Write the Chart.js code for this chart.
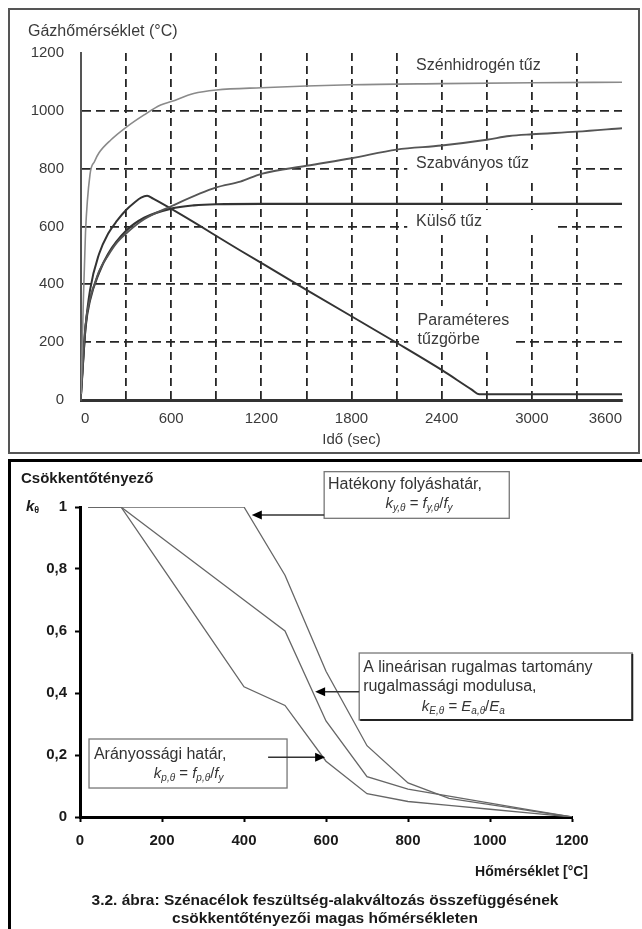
<!DOCTYPE html>
<html>
<head>
<meta charset="utf-8">
<script src="https://cdn.jsdelivr.net/npm/chart.js"></script>
<style>
html,body{margin:0;padding:0;background:#fff;}
body{width:642px;height:929px;position:relative;overflow:hidden;}
canvas{position:absolute;left:0;}
#c1{top:0;}
#c2{top:456px;}
#f1{position:absolute;left:8px;top:8px;width:632px;height:446px;box-sizing:border-box;border:2px solid #555;}
#f2{position:absolute;left:8px;top:459px;width:634px;height:470px;box-sizing:border-box;border-top:3px solid #000;border-left:3px solid #000;}
</style>
</head>
<body>
<div id="f1"></div>
<div id="f2"></div>
<canvas id="c1" width="642" height="456"></canvas>
<canvas id="c2" width="642" height="473"></canvas>
<script>
const FONT = '"Liberation Sans", Arial, sans-serif';

// ---------- Top chart: gas temperature curves ----------
const timeTickLabels = ['0', '600', '1200', '1800', '2400', '3000', '3600'];
const tempTickLabels = ['0', '200', '400', '600', '800', '1000', '1200'];

const hcTime  = [0, 15, 30, 60, 90, 120, 200, 300, 420, 530, 600, 750, 900, 1200, 1800, 2400, 3000, 3600];
const hcTemp  = [20, 330, 580, 780, 825, 855, 900, 943, 986, 1020, 1032, 1060, 1072, 1080, 1090, 1094, 1097, 1099];

const isoTime = [0, 30, 60, 90, 120, 180, 240, 300, 420, 600, 900, 1060, 1200, 1500, 1800, 2100, 2400, 2700, 2850, 3000, 3300, 3600];
const isoTemp = [20, 260, 350, 400, 445, 500, 545, 576, 625, 670, 735, 755, 782, 810, 836, 866, 880, 900, 913, 919, 928, 940];

const extTime = [0, 30, 60, 120, 180, 300, 420, 600, 750, 900, 1200, 3600];
const extTemp = [20, 250, 345, 440, 505, 585, 630, 662, 673, 677, 678, 678];

const parTime = [0, 30, 60, 120, 180, 240, 300, 360, 400, 440, 480, 1060, 1500, 2100, 2400, 2600, 2650, 3600];
const parTemp = [20, 250, 380, 505, 575, 620, 657, 685, 700, 706, 696, 517, 381, 198, 104, 36, 20, 20];

const seriesNames = ['Szénhidrogén tűz', 'Szabványos tűz', 'Külső tűz', 'Paraméteres tűzgörbe'];

// ---------- Bottom chart: reduction factors ----------
const steelTemp = [20, 100, 200, 300, 400, 500, 600, 700, 800, 900, 1000, 1100, 1200];
const kYield    = [1, 1, 1, 1, 1, 0.78, 0.47, 0.23, 0.11, 0.06, 0.04, 0.02, 0];
const kModulus  = [1, 1, 0.9, 0.8, 0.7, 0.6, 0.31, 0.13, 0.09, 0.0675, 0.045, 0.0225, 0];
const kProp     = [1, 1, 0.807, 0.613, 0.42, 0.36, 0.18, 0.075, 0.05, 0.0375, 0.025, 0.0125, 0];
const kTickLabels = ['0', '0,2', '0,4', '0,6', '0,8', '1'];
const steelTickLabels = ['0', '200', '400', '600', '800', '1000', '1200'];

const pts = (xs, ys) => xs.map((x, i) => ({x: x, y: ys[i]}));

// ---------- Top chart annotations (data coordinates) ----------
const topNotes = [
  {lines: ['Szénhidrogén tűz'], tx: 2230, ty: [1156], box: [2190, 3089, 1200, 1107]},
  {lines: ['Szabványos tűz'], tx: 2230, ty: [817], box: [2171, 3242, 865, 761]},
  {lines: ['Külső tűz'], tx: 2230, ty: [617], box: [2171, 3155, 657, 571]},
  {lines: ['Paraméteres', 'tűzgörbe'], tx: 2240, ty: [274, 208], box: [2177, 2889, 325, 166]}
];

const topPlugin = {
  id: 'topNotes',
  beforeDatasetsDraw(chart) {
    const {ctx, scales: {x, y}} = chart;
    ctx.save();
    ctx.fillStyle = '#fff';
    topNotes.forEach(n => {
      const x0 = x.getPixelForValue(n.box[0]), x1 = x.getPixelForValue(n.box[1]);
      const y0 = y.getPixelForValue(n.box[2]), y1 = y.getPixelForValue(n.box[3]);
      ctx.fillRect(x0, y0, x1 - x0, y1 - y0);
    });
    ctx.fillStyle = '#3a3a3a';
    ctx.font = '16px ' + FONT;
    ctx.textAlign = 'left';
    ctx.textBaseline = 'middle';
    topNotes.forEach(n => {
      n.lines.forEach((ln, i) => ctx.fillText(ln, x.getPixelForValue(n.tx), y.getPixelForValue(n.ty[i])));
    });
    ctx.restore();
  },
  afterDraw(chart) {
    const ctx = chart.ctx;
    ctx.save();
    ctx.fillStyle = '#3a3a3a';
    ctx.font = '16px ' + FONT;
    ctx.textAlign = 'left';
    ctx.textBaseline = 'middle';
    ctx.fillText('Gázhőmérséklet (°C)', 28, 32);
    ctx.restore();
  }
};

new Chart(document.getElementById('c1'), {
  type: 'line',
  data: {
    datasets: [
      {label: seriesNames[0], data: pts(hcTime, hcTemp), borderColor: '#8a8a8a', borderWidth: 1.6},
      {label: seriesNames[1], data: pts(isoTime, isoTemp), borderColor: '#555', borderWidth: 1.9},
      {label: seriesNames[2], data: pts(extTime, extTemp), borderColor: '#333', borderWidth: 2.2},
      {label: seriesNames[3], data: pts(parTime, parTemp), borderColor: '#333', borderWidth: 2}
    ]
  },
  options: {
    responsive: false,
    animation: false,
    devicePixelRatio: 1,
    layout: {padding: {top: 53, right: 20, left: 0, bottom: 0}},
    elements: {point: {radius: 0}, line: {cubicInterpolationMode: 'monotone', fill: false}},
    plugins: {legend: {display: false}, tooltip: {enabled: false}},
    scales: {
      x: {
        type: 'linear', min: 0, max: 3600,
        afterFit(s) { s.height = 56; },
        ticks: {
          stepSize: 300, autoSkip: false, maxRotation: 0, padding: 10, align: 'inner',
          color: '#3a3a3a', font: {family: FONT, size: 15},
          callback: v => timeTickLabels.includes(String(v)) ? String(v) : ''
        },
        grid: {
          drawTicks: false, lineWidth: 1.8,
          color: c => (c.tick && (c.tick.value === 0 || c.tick.value === 3600)) ? 'rgba(0,0,0,0)' : '#262626'
        },
        border: {display: true, color: '#333', width: 3, dash: [8, 5]},
        title: {display: true, text: 'Idő (sec)', color: '#3a3a3a', font: {family: FONT, size: 15}, padding: {top: 0, bottom: 7}}
      },
      y: {
        type: 'linear', min: 0, max: 1200,
        afterFit(s) { s.width = 81; },
        ticks: {
          stepSize: 200, padding: 17, color: '#3a3a3a', font: {family: FONT, size: 15},
          callback: v => tempTickLabels.includes(String(v)) ? String(v) : ''
        },
        grid: {
          drawTicks: false, lineWidth: 1.8,
          color: c => (c.tick && (c.tick.value === 0 || c.tick.value === 1200)) ? 'rgba(0,0,0,0)' : '#262626'
        },
        border: {display: true, color: '#555', width: 2, dash: [9, 5]}
      }
    }
  },
  plugins: [topPlugin]
});

// ---------- Bottom chart annotations ----------
function drawRich(ctx, segs, x, yMid, align) {
  const main = 15, sub = 10;
  const fontOf = k => k === 's' ? `italic ${sub}px ${FONT}` : (k === 'i' ? `italic ${main}px ${FONT}` : `${main}px ${FONT}`);
  let w = 0;
  segs.forEach(([t, k]) => { ctx.font = fontOf(k); w += ctx.measureText(t).width; });
  let cx = align === 'center' ? x - w / 2 : x;
  const base = yMid + main * 0.35;
  ctx.textAlign = 'left';
  ctx.textBaseline = 'alphabetic';
  segs.forEach(([t, k]) => {
    ctx.font = fontOf(k);
    ctx.fillText(t, cx, base + (k === 's' ? 3 : 0));
    cx += ctx.measureText(t).width;
  });
}

const bottomNotes = [
  {rect: [595.5, 1047, 1.114, 0.9635], shadow: false,
   text: [{t: 'Hatékony folyáshatár,', x: 605, y: 1.071}],
   rich: {segs: [['k', 'i'], ['y,θ', 's'], [' = ', 'n'], ['f', 'i'], ['y,θ', 's'], ['/', 'n'], ['f', 'i'], ['y', 's']], x: 827, y: 1.013},
   arrow: {from: [595.5, 0.974], to: [419, 0.974]}},
  {rect: [681, 1347, 0.529, 0.3129], shadow: true,
   text: [{t: 'A lineárisan rugalmas tartomány', x: 690.6, y: 0.4806}, {t: 'rugalmassági modulusa,', x: 690.6, y: 0.4194}],
   rich: {segs: [['k', 'i'], ['E,θ', 's'], [' = ', 'n'], ['E', 'i'], ['a,θ', 's'], ['/', 'n'], ['E', 'i'], ['a', 's']], x: 935, y: 0.358},
   arrow: {from: [681, 0.404], to: [573.5, 0.404]}},
  {rect: [22, 505, 0.2516, 0.0935], shadow: false,
   text: [{t: 'Arányossági határ,', x: 34, y: 0.2}],
   rich: {segs: [['k', 'i'], ['p,θ', 's'], [' = ', 'n'], ['f', 'i'], ['p,θ', 's'], ['/', 'n'], ['f', 'i'], ['y', 's']], x: 265, y: 0.143},
   arrow: {from: [458.8, 0.1926], to: [597.9, 0.1926]}}
];

const bottomPlugin = {
  id: 'bottomNotes',
  afterDraw(chart) {
    const {ctx, scales: {x, y}} = chart;
    ctx.save();
    bottomNotes.forEach(n => {
      const x0 = x.getPixelForValue(n.rect[0]), x1 = x.getPixelForValue(n.rect[1]);
      const y0 = y.getPixelForValue(n.rect[2]), y1 = y.getPixelForValue(n.rect[3]);
      ctx.fillStyle = '#fff';
      ctx.fillRect(x0, y0, x1 - x0, y1 - y0);
      ctx.strokeStyle = '#777';
      ctx.lineWidth = 1.3;
      ctx.strokeRect(x0, y0, x1 - x0, y1 - y0);
      if (n.shadow) {
        ctx.strokeStyle = '#222';
        ctx.lineWidth = 2;
        ctx.beginPath();
        ctx.moveTo(x0 + 1, y1); ctx.lineTo(x1, y1); ctx.lineTo(x1, y0 + 1);
        ctx.stroke();
      }
      ctx.fillStyle = '#333';
      ctx.font = '16px ' + FONT;
      ctx.textAlign = 'left';
      ctx.textBaseline = 'middle';
      n.text.forEach(tl => ctx.fillText(tl.t, x.getPixelForValue(tl.x), y.getPixelForValue(tl.y)));
      drawRich(ctx, n.rich.segs, x.getPixelForValue(n.rich.x), y.getPixelForValue(n.rich.y), 'center');
      // arrow
      const ax0 = x.getPixelForValue(n.arrow.from[0]), ay = y.getPixelForValue(n.arrow.from[1]);
      const ax1 = x.getPixelForValue(n.arrow.to[0]);
      const dir = ax1 > ax0 ? 1 : -1;
      ctx.strokeStyle = '#333';
      ctx.lineWidth = 1.6;
      ctx.beginPath();
      ctx.moveTo(ax0, ay); ctx.lineTo(ax1 - dir * 6, ay);
      ctx.stroke();
      ctx.fillStyle = '#000';
      ctx.beginPath();
      ctx.moveTo(ax1, ay); ctx.lineTo(ax1 - dir * 10, ay - 4.5); ctx.lineTo(ax1 - dir * 10, ay + 4.5);
      ctx.closePath();
      ctx.fill();
    });
    // titles
    ctx.fillStyle = '#1a1a1a';
    ctx.textBaseline = 'middle';
    ctx.textAlign = 'left';
    ctx.font = 'bold 15px ' + FONT;
    ctx.fillText('Csökkentőtényező', 21, 23);
    ctx.font = 'italic bold 15px ' + FONT;
    ctx.fillText('k', 26, 51);
    const kw = ctx.measureText('k').width;
    ctx.font = 'bold 9px ' + FONT;
    ctx.fillText('θ', 26 + kw, 55);
    ctx.textAlign = 'right';
    ctx.font = 'bold 14px ' + FONT;
    ctx.fillText('Hőmérséklet [°C]', 588, 416);
    ctx.textAlign = 'center';
    ctx.font = 'bold 15.5px ' + FONT;
    ctx.fillText('3.2. ábra: Szénacélok feszültség-alakváltozás összefüggésének', 325, 445);
    ctx.fillText('csökkentőtényezői magas hőmérsékleten', 325, 463);
    ctx.restore();
  }
};

new Chart(document.getElementById('c2'), {
  type: 'line',
  data: {
    datasets: [
      {label: 'k_y,θ', data: pts(steelTemp, kYield), borderColor: '#666', borderWidth: 1.3},
      {label: 'k_E,θ', data: pts(steelTemp, kModulus), borderColor: '#666', borderWidth: 1.3},
      {label: 'k_p,θ', data: pts(steelTemp, kProp), borderColor: '#666', borderWidth: 1.3}
    ]
  },
  options: {
    responsive: false,
    animation: false,
    devicePixelRatio: 1,
    layout: {padding: {top: 51, right: 70, left: 0, bottom: 0}},
    elements: {point: {radius: 0}, line: {tension: 0, fill: false}},
    plugins: {legend: {display: false}, tooltip: {enabled: false}},
    scales: {
      x: {
        type: 'linear', min: 0, max: 1200,
        afterFit(s) { s.height = 112; },
        ticks: {
          stepSize: 200, autoSkip: false, maxRotation: 0, padding: 10,
          color: '#1a1a1a', font: {family: FONT, size: 15, weight: 'bold'},
          callback: (v, i) => steelTickLabels[i]
        },
        grid: {drawOnChartArea: false, drawTicks: true, tickLength: 5, tickWidth: 2, tickColor: '#000', color: '#000'},
        border: {display: true, color: '#000', width: 3}
      },
      y: {
        type: 'linear', min: 0, max: 1,
        afterFit(s) { s.width = 80; },
        ticks: {
          stepSize: 0.2, padding: 8,
          color: '#1a1a1a', font: {family: FONT, size: 15, weight: 'bold'},
          callback: (v, i) => kTickLabels[i]
        },
        grid: {drawOnChartArea: false, drawTicks: true, tickLength: 5, tickWidth: 2, tickColor: '#000', color: '#000'},
        border: {display: true, color: '#000', width: 3}
      }
    }
  },
  plugins: [bottomPlugin]
});
</script>
</body>
</html>
